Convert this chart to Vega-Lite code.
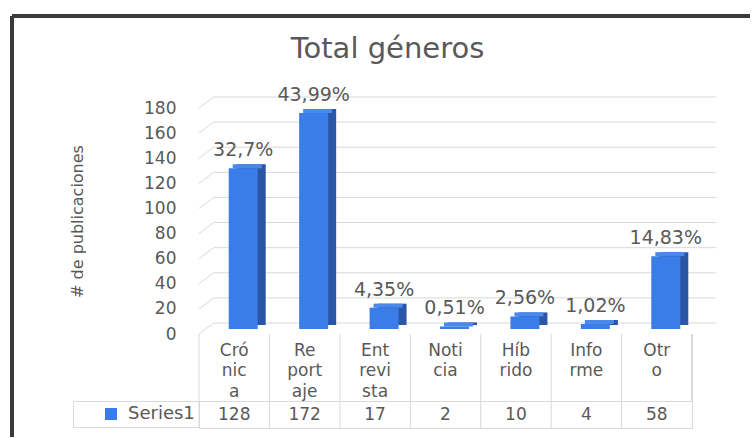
{
  "$schema": "https://vega.github.io/schema/vega-lite/v6.json",
  "padding": {"left": 10, "top": 14, "right": 0, "bottom": 0},
  "background": "white",
  "config": {"view": {"stroke": null}, "font": "DejaVu Sans",
    "axisY": {"values": [0, 20, 40, 60, 80, 100, 120, 140, 160, 180], "tickCount": 10, "labelOverlap": false}},
  "datasets": {
    "d": [
      {"cat": "Crónica", "label": "Cró nic a", "value": 128, "pct": "32,7%", "series": "Series1"},
      {"cat": "Reportaje", "label": "Re port aje", "value": 172, "pct": "43,99%", "series": "Series1"},
      {"cat": "Entrevista", "label": "Ent revi sta", "value": 17, "pct": "4,35%", "series": "Series1"},
      {"cat": "Noticia", "label": "Noti cia", "value": 2, "pct": "0,51%", "series": "Series1"},
      {"cat": "Híbrido", "label": "Híb rido", "value": 10, "pct": "2,56%", "series": "Series1"},
      {"cat": "Informe", "label": "Info rme", "value": 4, "pct": "1,02%", "series": "Series1"},
      {"cat": "Otro", "label": "Otr o", "value": 58, "pct": "14,83%", "series": "Series1"}
    ],
    "grid": [{"g": 0}, {"g": 20}, {"g": 40}, {"g": 60}, {"g": 80}, {"g": 100}, {"g": 120}, {"g": 140}, {"g": 160}, {"g": 180}]
  },
  "resolve": {"scale": {"color": "independent"}, "legend": {"color": "independent"}},
  "spacing": 0,
  "bounds": "flush",
  "vconcat": [
    {
      "width": 493,
      "height": 226,
      "title": {"text": "Total géneros", "font": "DejaVu Sans", "fontSize": 29, "fontWeight": "normal", "color": "#595959", "anchor": "middle", "frame": "group", "dx": -58, "offset": 22},
      "data": {"name": "d"},
      "layer": [
        {
          "data": {"name": "grid"},
          "mark": {"type": "rule", "stroke": "#d9d9d9", "strokeWidth": 1, "xOffset": -6, "x2Offset": 45, "yOffset": -11},
          "encoding": {
            "x": {"datum": "Crónica", "type": "nominal", "bandPosition": 0,
              "scale": {"domain": ["Crónica", "Reportaje", "Entrevista", "Noticia", "Híbrido", "Informe", "Otro"], "paddingInner": 0.588, "paddingOuter": 0.294}, "axis": null},
            "x2": {"datum": "Otro", "bandPosition": 1},
            "y": {"field": "g", "type": "quantitative", "scale": {"domain": [0, 180], "nice": false},
              "axis": {"title": "# de publicaciones", "values": [0, 20, 40, 60, 80, 100, 120, 140, 160, 180], "domain": false, "ticks": false, "grid": false, "labelOverlap": false,
                "labelPadding": 23, "labelFont": "DejaVu Sans", "labelFontSize": 17, "labelColor": "#595959",
                "titleFont": "DejaVu Sans", "titleFontSize": 16, "titleFontWeight": "normal", "titleColor": "#595959", "titlePadding": 58}}
          }
        },
        {
          "data": {"name": "grid"},
          "mark": {"type": "rule", "stroke": "#d9d9d9", "strokeWidth": 1, "xOffset": -20.7, "x2Offset": -6, "y2Offset": -11},
          "encoding": {
            "x": {"datum": "Crónica", "type": "nominal", "bandPosition": 0},
            "x2": {"datum": "Crónica", "bandPosition": 0},
            "y": {"field": "g", "type": "quantitative", "title": "# de publicaciones"},
            "y2": {"field": "g"}
          }
        },
        {
          "mark": {"type": "bar", "color": "#2b55a5", "xOffset": 17, "yOffset": -9, "y2Offset": -9},
          "encoding": {
            "x": {"field": "cat", "type": "nominal", "sort": null},
            "y": {"field": "value", "type": "quantitative", "title": "# de publicaciones"}
          }
        },
        {
          "mark": {"type": "bar", "color": "#4a88ec", "xOffset": 13, "yOffset": -9, "y2Offset": -5},
          "encoding": {
            "x": {"field": "cat", "type": "nominal", "sort": null},
            "y": {"field": "value", "type": "quantitative", "title": "# de publicaciones"},
            "y2": {"field": "value"}
          }
        },
        {
          "mark": {"type": "bar", "color": "#3b7de8", "xOffset": 9, "yOffset": -5, "y2Offset": -5},
          "encoding": {
            "x": {"field": "cat", "type": "nominal", "sort": null},
            "y": {"field": "value", "type": "quantitative", "title": "# de publicaciones"}
          }
        },
        {
          "mark": {"type": "text", "font": "DejaVu Sans", "fontSize": 19, "fill": "#595959", "baseline": "alphabetic", "align": "center", "xOffset": 9, "yOffset": -17},
          "encoding": {
            "x": {"field": "cat", "type": "nominal", "sort": null},
            "y": {"field": "value", "type": "quantitative", "title": "# de publicaciones"},
            "text": {"field": "pct"}
          }
        }
      ]
    },
    {
      "width": 493,
      "height": 67,
      "data": {"name": "d"},
      "layer": [
        {
          "mark": {"type": "rule", "stroke": "#d9d9d9", "strokeWidth": 1},
          "encoding": {"x": {"field": "cat", "type": "nominal", "sort": null, "bandPosition": 0,
            "scale": {"domain": ["Crónica", "Reportaje", "Entrevista", "Noticia", "Híbrido", "Informe", "Otro"], "paddingInner": 0, "paddingOuter": 0}, "axis": null}}
        },
        {
          "mark": {"type": "rule", "stroke": "#d9d9d9", "strokeWidth": 1},
          "encoding": {"x": {"datum": "Otro", "type": "nominal", "bandPosition": 1}}
        },
        {
          "mark": {"type": "text", "lineBreak": " ", "baseline": "top", "dy": -25, "lineHeight": 20.5, "font": "DejaVu Sans", "fontSize": 17, "fill": "#595959", "align": "center"},
          "encoding": {
            "x": {"field": "cat", "type": "nominal", "sort": null},
            "text": {"field": "label"}
          }
        },
        {
          "mark": {"type": "rule", "stroke": "#3a3a3a", "strokeWidth": 3, "xOffset": -187, "yOffset": 36, "y2Offset": -318},
          "encoding": {
            "x": {"datum": "Crónica", "type": "nominal", "bandPosition": 0},
            "y": {"datum": 0, "type": "quantitative", "scale": {"domain": [0, 1], "nice": false, "zero": false}, "axis": null},
            "y2": {"datum": 1}
          }
        },
        {
          "mark": {"type": "rule", "stroke": "#3a3a3a", "strokeWidth": 3, "xOffset": -187, "x2Offset": 58, "yOffset": -351.5},
          "encoding": {
            "x": {"datum": "Crónica", "type": "nominal", "bandPosition": 0},
            "x2": {"datum": "Otro", "bandPosition": 1}
          }
        }
      ]
    },
    {
      "width": 493,
      "height": 27,
      "view": {"stroke": "#d9d9d9", "strokeWidth": 1},
      "data": {"name": "d"},
      "layer": [
        {
          "mark": {"type": "rule", "stroke": "#d9d9d9", "strokeWidth": 1},
          "encoding": {"x": {"field": "cat", "type": "nominal", "sort": null, "bandPosition": 0,
            "scale": {"domain": ["Crónica", "Reportaje", "Entrevista", "Noticia", "Híbrido", "Informe", "Otro"], "paddingInner": 0, "paddingOuter": 0}, "axis": null}}
        },
        {
          "mark": {"type": "text", "font": "DejaVu Sans", "fontSize": 17, "fill": "#595959", "align": "center", "baseline": "middle"},
          "encoding": {
            "x": {"field": "cat", "type": "nominal", "sort": null},
            "text": {"field": "value", "type": "quantitative"}
          }
        },
        {
          "mark": {"type": "square", "opacity": 0, "size": 10},
          "encoding": {
            "x": {"field": "cat", "type": "nominal", "sort": null},
            "color": {"field": "series", "type": "nominal", "scale": {"range": ["#3b7de8"]},
              "legend": {"orient": "left", "offset": 0, "title": null,
                "strokeColor": "#d9d9d9", "padding": 4, "symbolType": "square", "symbolSize": 144, "symbolOpacity": 1, "symbolStrokeWidth": 0, "symbolOffset": 25,
                "labelFont": "DejaVu Sans", "labelFontSize": 18, "labelColor": "#595959", "labelOffset": 8}}
          }
        }
      ]
    }
  ]
}
